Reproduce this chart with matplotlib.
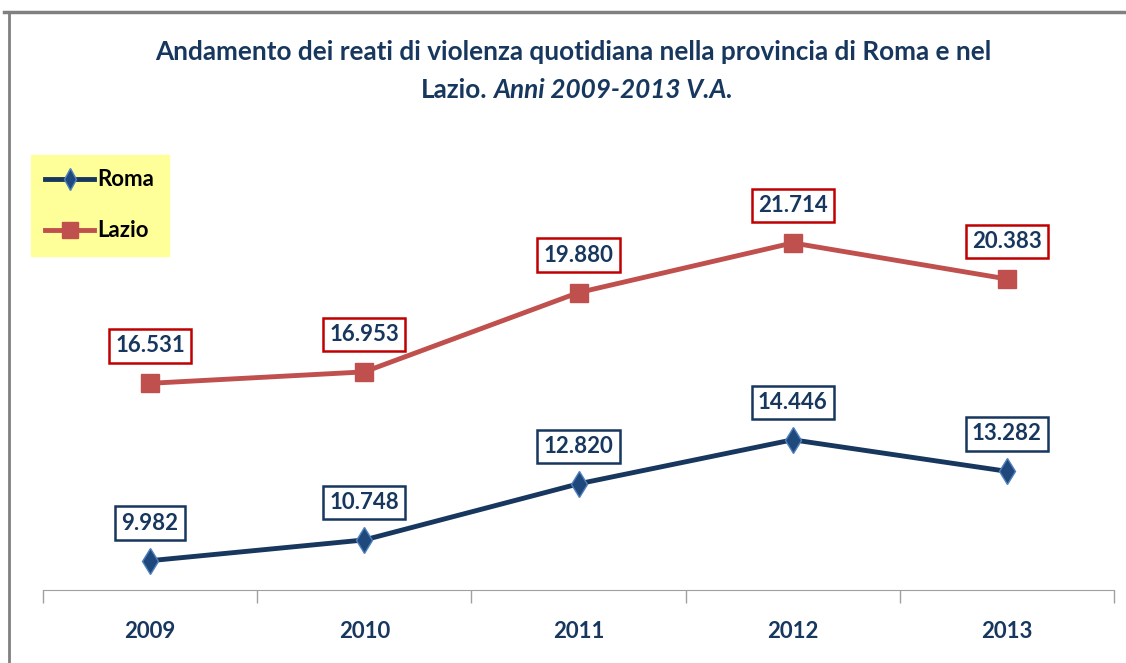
import matplotlib.pyplot as plt
from matplotlib.lines import Line2D

years = ['2009', '2010', '2011', '2012', '2013']
roma = [9982, 10748, 12820, 14446, 13282]
lazio = [16531, 16953, 19880, 21714, 20383]

NAVY = '#17375E'
NAVY_MK = '#1F497D'
RED_LINE = '#C0504D'
RED_BOX = '#C00000'

plt.rcParams['font.family'] = ['Lato', 'DejaVu Sans']


def fmt_it(v):
    # Italian thousands separator
    return f'{v:,}'.replace(',', '.')


fig = plt.figure(figsize=(11.26, 6.63), dpi=100)
W, H = 1126, 663
ax = fig.add_axes([43 / W, (H - 590) / H, (1114 - 43) / W, (590 - 181) / H])

x = list(range(len(years)))
ax.plot(x, roma, color=NAVY, lw=3.5, marker='d', ms=13, mfc=NAVY_MK,
        mec='#4F81BD', mew=1, label='Roma', zorder=3)
ax.plot(x, lazio, color=RED_LINE, lw=3.5, marker='s', ms=13, mfc=RED_LINE,
        mec=RED_LINE, label='Lazio', zorder=3)

for xi, v in zip(x, roma):
    ax.annotate(fmt_it(v), (xi, v), xytext=(0, 27), textcoords='offset points',
                ha='center', va='center', fontsize=16, fontweight='bold', color=NAVY,
                bbox=dict(boxstyle='square,pad=0.28', fc='white', ec=NAVY, lw=1.8))
for xi, v in zip(x, lazio):
    ax.annotate(fmt_it(v), (xi, v), xytext=(0, 27), textcoords='offset points',
                ha='center', va='center', fontsize=16, fontweight='bold', color=NAVY,
                bbox=dict(boxstyle='square,pad=0.28', fc='white', ec=RED_BOX, lw=1.8))

ax.set_xlim(-0.5, len(years) - 0.5)
ax.set_ylim(8900, 24000)
ax.set_xticks(x)
ax.set_xticklabels(years, fontsize=16, fontweight='bold', color=NAVY)
ax.tick_params(axis='x', which='major', length=0, pad=22)
ax.set_xticks([i - 0.5 for i in range(len(years) + 1)], minor=True)
ax.tick_params(axis='x', which='minor', length=9, color='#A0A0A0', width=1)
ax.set_yticks([])
for s in ['top', 'right', 'left']:
    ax.spines[s].set_visible(False)
ax.spines['bottom'].set_color('#A0A0A0')

fig.text(573 / W, 1 - 52 / H, 'Andamento dei reati di violenza quotidiana nella provincia di Roma e nel',
         ha='center', va='center', fontsize=18.8, fontweight='bold', color=NAVY)
fig.text(487 / W, 1 - 90 / H, 'Lazio.', ha='right', va='center',
         fontsize=18.8, fontweight='bold', color=NAVY)
fig.text(493 / W, 1 - 90 / H, 'Anni 2009-2013 V.A.', ha='left', va='center',
         fontsize=18.8, fontweight='bold', style='italic', color=NAVY)

leg = ax.legend(loc='upper left', bbox_to_anchor=(31 / W, 1 - 155 / H),
                bbox_transform=fig.transFigure, fontsize=16, frameon=True,
                fancybox=False, facecolor='#FFFF99', edgecolor='#FFFF99',
                framealpha=1, handlelength=2.2, handletextpad=0.15,
                labelspacing=1.35, borderpad=0.65, borderaxespad=0)
for t in leg.get_texts():
    t.set_fontweight('bold')
    t.set_color('black')
for h, size in zip(leg.legend_handles, [11, 11]):
    h.set_markersize(size)

# outer chart frame (top and left edges)
fig.add_artist(Line2D([4 / W, 1], [1 - 12 / H, 1 - 12 / H], color='#808080', lw=2.5,
                      transform=fig.transFigure))
fig.add_artist(Line2D([9 / W, 9 / W], [0, 1 - 12 / H], color='#808080', lw=2,
                      transform=fig.transFigure))

fig.savefig('out.png', dpi=100)
